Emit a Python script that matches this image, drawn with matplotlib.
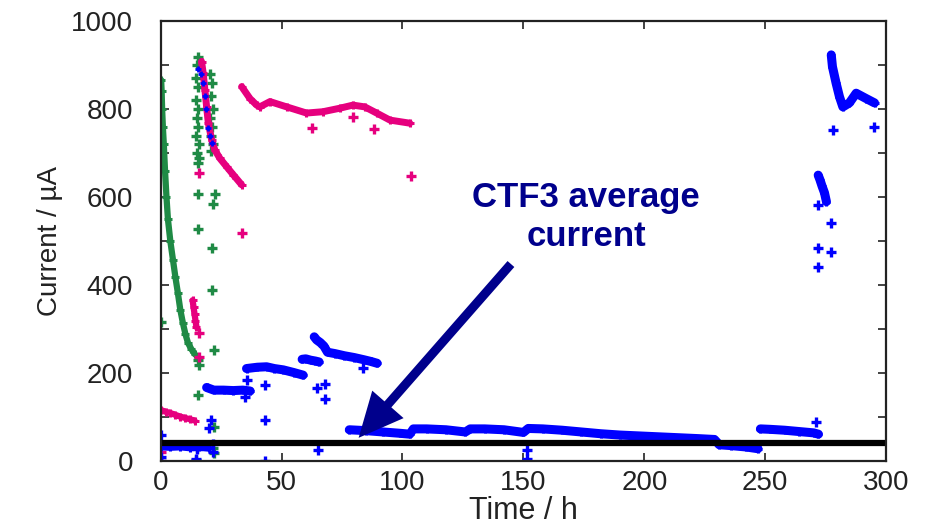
import matplotlib
matplotlib.use("Agg")
import matplotlib.pyplot as plt
from matplotlib.patches import FancyArrowPatch, ArrowStyle
from matplotlib.ticker import MultipleLocator, FuncFormatter

plt.rcParams['font.family'] = ['Liberation Sans', 'DejaVu Sans']

GREEN = '#1f8a45'
PINK = '#e6007e'
BLUE = '#0000ff'
NAVY = '#00008c'

# green: initial decay and scatter around t~15-22 h
green_fall_t = [0.2, 0.4, 0.6, 0.9, 1.3, 1.8, 2.4, 3.0, 4.0, 5.1, 6.1, 7.1, 8.1, 9.2, 10.2, 11.3, 12.7, 14.2]
green_fall_i = [866, 840, 800, 760, 720, 660, 600, 550, 500, 457, 418, 383, 345, 314, 290, 269, 255, 243]
green_pts_t = [15.5, 15.2, 14.8, 15.3, 14.6, 15.6, 14.9, 15.4, 14.7, 15.8, 15.1, 15.9,
               20.5, 21.2, 20.8, 21.5, 20.6, 21.3, 21.0, 21.6, 20.7,
               15.3, 15.3, 22.5, 21.7, 15.6, 21.2, 21.2, 22.0, 15.3, 15.7, 15.3,
               22.0, 14.8, 22.0, 15.0, 21.5, 0.0]
green_pts_i = [918, 900, 870, 850, 820, 800, 780, 760, 740, 720, 700, 690,
               880, 860, 830, 800, 780, 760, 740, 720, 705,
               677, 607, 607, 584, 527, 484, 389, 253, 230, 220, 151,
               78, 3, 19, 30, 30, 316]

# magenta
pink_start_t = [0, 2, 4, 6, 8, 10, 12, 14]
pink_start_i = [117, 113, 110, 106, 102, 99, 96, 93]
pink_mid_t = [13.2, 13.6, 14.0, 14.4, 14.8]
pink_mid_i = [366, 350, 335, 320, 305]
pink_fall_t = [16.9, 17.6, 18.3, 19.0, 19.7, 21.1, 22.4, 24.5, 27.3, 30.0, 33.5]
pink_fall_i = [908, 881, 843, 805, 768, 730, 707, 688, 669, 651, 628]
pink_top_t = [33.5, 36.9, 39.7, 41.0, 45.2, 52.1, 60.3, 67.1, 74.1, 79.5, 84.4, 89.3, 94.8, 103.0]
pink_top_i = [851, 824, 809, 805, 817, 805, 791, 794, 802, 809, 805, 791, 775, 768]
pink_pts_t = [62.4, 79.5, 88.1, 103.7, 33.6, 15.8, 15.8, 15.8, 0.0, 0.0]
pink_pts_i = [756, 783, 754, 647, 518, 654, 292, 238, 0, 22]

# blue
blue_base_t = [0, 4, 8, 12, 16, 20]
blue_base_i = [33, 32, 33, 31, 32, 30]
blue_fall_t = [15.6, 16.8, 17.6, 18.3, 18.8, 19.7, 20.5, 21.1]
blue_fall_i = [890, 880, 860, 830, 800, 757, 740, 723]
blue_step1_t = [19.0, 22, 26, 30, 34, 37]
blue_step1_i = [168, 162, 162, 161, 162, 160]
blue_step2_t = [35.5, 40, 43.8, 47, 50.7, 55, 58.9]
blue_step2_i = [211, 214, 215, 211, 208, 202, 196]
blue_step3_t = [58.5, 60, 62, 64, 65.5]
blue_step3_i = [232, 233, 230, 228, 226]
blue_peak_t = [63.5, 64.5, 66, 67.5, 69, 72, 76, 80, 84, 87, 89.5]
blue_peak_i = [283, 276, 270, 262, 248, 245, 240, 236, 231, 227, 223]
blue_low_t = [78, 85, 92, 99, 103, 104.5, 110, 118, 126, 128, 134, 142, 150, 152, 158,
              166, 174, 182, 190, 198, 206, 214, 222, 229, 231, 236, 242, 247]
blue_low_i = [72, 70, 67, 64, 62, 74, 74, 72, 67, 74, 74, 72, 66, 75, 74,
              71, 67, 63, 60, 58, 56, 54, 52, 50, 38, 36, 33, 29]
blue_last_t = [248, 252, 258, 264, 270, 272]
blue_last_i = [74, 73, 71, 68, 65, 62]
blue_jump_t = [271.9, 272.6, 273.5, 274.5, 275.3]
blue_jump_i = [650, 640, 625, 610, 590]
blue_top_t = [277.3, 277.8, 279.3, 280.7, 282.1, 284.8, 287.6, 291.7, 295.2]
blue_top_i = [923, 896, 859, 828, 805, 814, 836, 824, 814]
blue_pts_t = [0.2, 0.3, 0.3, 20.8, 20.0, 21.5, 21.5, 15.0, 14.5,
              35.5, 43.1, 43.1, 34.8, 64.5, 67.9, 67.9, 65.0, 43.1, 83.6,
              151.5, 151.5, 271.1, 271.7, 277.3, 271.7, 277.3, 271.7, 277.9, 294.8]
blue_pts_i = [60, 11, 0, 94, 76, 40, 22, 28, 5,
              185, 174, 94, 147, 167, 176, 142, 26, 0, 212,
              26, 5, 90, 582, 542, 484, 476, 442, 753, 759]

# CTF3 average current
avg_t = [0, 300]
avg_i = [41, 41]

fig = plt.figure(figsize=(9.32, 5.27), dpi=100)
ax = fig.add_axes([0.1724, 0.1243, 0.7784, 0.8359])


def band(t, i, color, lw=5):
    ax.plot(t, i, '-', color=color, lw=lw, solid_capstyle='round', solid_joinstyle='round')
    ax.plot(t, i, '+', color=color, ms=6, mew=2.2)


def dots(t, i, color):
    ax.plot(t, i, '+', color=color, ms=6.5, mew=2.4, ls='none')


band(green_fall_t, green_fall_i, GREEN, lw=4.5)
dots(green_pts_t, green_pts_i, GREEN)

band(pink_start_t, pink_start_i, PINK, lw=4.5)
band(pink_mid_t, pink_mid_i, PINK, lw=4.5)
band(pink_fall_t, pink_fall_i, PINK, lw=5)
band(pink_top_t, pink_top_i, PINK, lw=5)
dots(pink_pts_t, pink_pts_i, PINK)

band(blue_base_t, blue_base_i, BLUE, lw=5)
ax.plot(blue_fall_t, blue_fall_i, '+', color=BLUE, ms=5, mew=2)
for t, i in [(blue_step1_t, blue_step1_i), (blue_step2_t, blue_step2_i),
             (blue_step3_t, blue_step3_i), (blue_peak_t, blue_peak_i),
             (blue_low_t, blue_low_i), (blue_last_t, blue_last_i),
             (blue_jump_t, blue_jump_i), (blue_top_t, blue_top_i)]:
    band(t, i, BLUE, lw=6.5)
dots(blue_pts_t, blue_pts_i, BLUE)

ax.plot(avg_t, avg_i, '-', color='black', lw=4.5, solid_capstyle='butt')

ax.set_xlim(0, 300)
ax.set_ylim(0, 1000)
ax.xaxis.set_major_locator(MultipleLocator(50))
ax.yaxis.set_major_locator(MultipleLocator(100))
ax.yaxis.set_major_formatter(FuncFormatter(lambda v, p: f'{v:.0f}' if round(v) % 200 == 0 else ''))
ax.tick_params(direction='in', top=True, right=True, length=6, width=1.2,
               labelsize=20, colors='#222222')
ax.tick_params(axis='y', pad=20)
ax.tick_params(axis='x', pad=6)
for s in ax.spines.values():
    s.set_linewidth(1.6)
    s.set_color('#222222')

ax.set_xlabel('Time / h', fontsize=22, color='#222222', labelpad=0)
ax.set_ylabel('Current / µA', fontsize=20, color='#222222', labelpad=6)

ax.text(176, 555, 'CTF3 average\ncurrent', color=NAVY, fontsize=25, fontweight='bold',
        ha='center', va='center', linespacing=1.25)
arrow = FancyArrowPatch((145.6, 453), (81.1, 49),
                        arrowstyle=ArrowStyle.Simple(head_length=32, head_width=30, tail_width=6.5),
                        mutation_scale=1, color=NAVY, lw=0, zorder=5)
ax.add_patch(arrow)

fig.savefig('out.png', dpi=100)
